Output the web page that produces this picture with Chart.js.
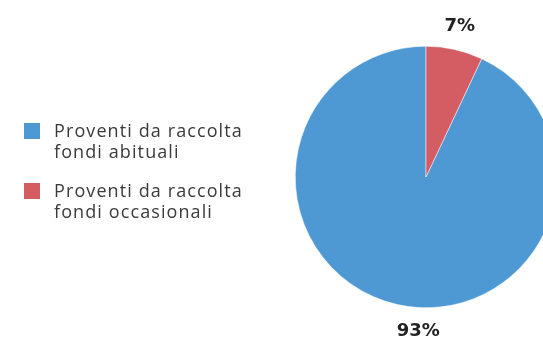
<!DOCTYPE html>
<html>
<head>
<meta charset="utf-8">
<script src="https://cdn.jsdelivr.net/npm/chart.js@4.4.1/dist/chart.umd.min.js"></script>
<style>
    html, body { margin: 0; padding: 0; background: #fff; overflow: hidden; width: 543px; height: 337px; }
    #chartWrap { position: absolute; left: 0; top: 0; width: 600px; height: 337px; }
    #legend { position: absolute; left: 24px; top: 120px; font-family: 'Open Sans', sans-serif; font-size: 18px; letter-spacing: 1.1px; color: #3a3a3a; }
    .item { display: flex; align-items: flex-start; margin-bottom: 18px; }
    .box { width: 16px; height: 16px; margin-top: 3px; margin-right: 14px; flex: none; }
    .txt { line-height: 21px; }
</style>
</head>
<body>
<div id="chartWrap"><canvas id="pieChart"></canvas></div>
<div id="legend"></div>
<script>
const labels = [
    ['Proventi da raccolta', 'fondi abituali'],
    ['Proventi da raccolta', 'fondi occasionali']
];
const values = [93, 7];
const colors = ['#4e98d3', '#d45c63'];

// labels outside the pie, drawn at the angle of each slice
const outsideLabels = {
    id: 'outsideLabels',
    afterDatasetsDraw(chart, args, opts) {
        const ctx = chart.ctx;
        const meta = chart.getDatasetMeta(0);
        ctx.save();
        ctx.font = 'bold 18px "DejaVu Sans", sans-serif';
        ctx.fillStyle = '#222';
        ctx.textAlign = 'center';
        ctx.textBaseline = 'middle';
        meta.data.forEach((arc, i) => {
            const p = arc.getProps(['x', 'y', 'startAngle', 'endAngle', 'outerRadius'], true);
            let a = (p.startAngle + p.endAngle) / 2;
            if (opts.angles && opts.angles[i] != null) a = opts.angles[i];
            const r = p.outerRadius + 24;
            ctx.fillText(values[i] + '%', p.x + Math.cos(a) * r, p.y + Math.sin(a) * r);
        });
        ctx.restore();
    }
};

const chart = new Chart(document.getElementById('pieChart').getContext('2d'), {
    type: 'pie',
    data: {
        labels: labels,
        datasets: [{
            data: values,
            backgroundColor: colors,
            borderColor: '#ffffff',
            borderWidth: 0.5
        }]
    },
    options: {
        responsive: true,
        maintainAspectRatio: false,
        animation: false,
        rotation: values[1] / 100 * 360,
        layout: { padding: { left: 295, top: 46, bottom: 29, right: 43 } },
        plugins: {
            legend: { display: false },
            tooltip: { enabled: false },
            outsideLabels: { angles: [Math.PI / 2 + 0.05, null] }
        }
    },
    plugins: [outsideLabels]
});

const legendEl = document.getElementById('legend');
labels.forEach((lbl, i) => {
    const item = document.createElement('div');
    item.className = 'item';
    item.innerHTML = '<div class="box" style="background:' + colors[i] + '"></div>' +
        '<div class="txt">' + lbl.join('<br>') + '</div>';
    legendEl.appendChild(item);
});
</script>
</body>
</html>
